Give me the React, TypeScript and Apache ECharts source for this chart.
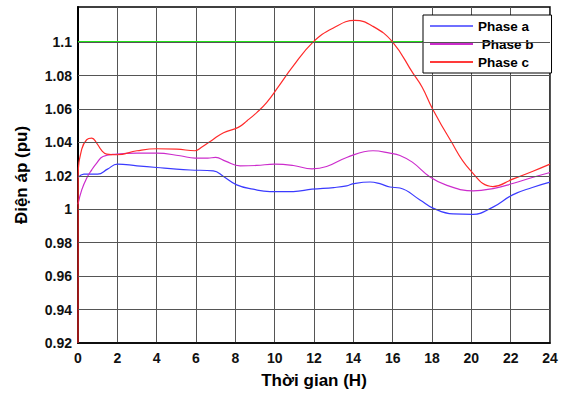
import React, { useEffect, useRef } from "react";
import * as echarts from "echarts";

const phaseA: [number, number][] = [
  [0, 1.019], [0.3, 1.021], [1.0, 1.021], [1.5, 1.024], [2.0, 1.027], [3.0, 1.026],
  [4.0, 1.025], [5.0, 1.024], [5.7, 1.0235], [6.88, 1.023], [7.4, 1.0196], [8.07, 1.0146],
  [8.9, 1.012], [9.76, 1.0106], [10.95, 1.0106], [11.9, 1.012], [13.0, 1.013], [13.66, 1.014],
  [14.0, 1.0153], [14.85, 1.0163], [15.35, 1.0153], [15.86, 1.0133], [16.37, 1.0127],
  [17.39, 1.0056], [18.05, 1.0007], [19.07, 0.9972], [20.08, 0.997], [21.1, 1.0013],
  [22.1, 1.0086], [23.1, 1.013], [24, 1.0162],
];

const phaseB: [number, number][] = [
  [0, 1.003], [0.19, 1.0116], [0.44, 1.0186], [0.7, 1.0236], [0.95, 1.0276], [1.27, 1.0316],
  [1.97, 1.033], [3, 1.0336], [4, 1.0336], [5.19, 1.032], [5.95, 1.0306], [6.6, 1.0306],
  [7.0, 1.031], [7.5, 1.0288], [8.24, 1.026], [9.08, 1.0262], [10, 1.027], [10.95, 1.0262],
  [11.9, 1.0242], [12.64, 1.0256], [13.66, 1.031], [15.0, 1.035], [15.86, 1.0336],
  [16.37, 1.0322], [17.0, 1.0282], [17.9, 1.0193], [18.76, 1.0143], [20.1, 1.011],
  [21.1, 1.0124], [22.1, 1.0154], [23.1, 1.019], [24, 1.022],
];

const phaseC: [number, number][] = [
  [0, 0.92], [0.01, 1.02], [0.19, 1.036], [0.44, 1.0416], [0.7, 1.0426], [0.95, 1.0396],
  [1.2, 1.0352], [1.46, 1.033], [1.97, 1.0326], [3, 1.035], [4, 1.0362], [5.02, 1.036],
  [5.95, 1.035], [6.3, 1.0372], [6.8, 1.0412], [7.4, 1.0458], [8.15, 1.049], [8.6, 1.053],
  [9.1, 1.058], [9.6, 1.064], [10.2, 1.0735], [10.9, 1.085], [11.95, 1.1], [12.96, 1.1083],
  [14.08, 1.113], [15.0, 1.1094], [16.0, 1.1], [17.03, 1.0814], [17.5, 1.073],
  [18.03, 1.06], [18.9, 1.042], [19.93, 1.0236], [21.1, 1.0136], [22.1, 1.018],
  [23.1, 1.0226], [24, 1.027],
];

const limitLine: [number, number][] = [[0, 1.1], [24, 1.1]];
const yGridValues = [0.94, 0.96, 0.98, 1.0, 1.02, 1.04, 1.06, 1.08, 1.1];
const seriesNames = ["Phase a", " Phase b", "Phase c"];

const FONT = "'Liberation Sans', Arial, sans-serif";

export default function App() {
  const ref = useRef<HTMLDivElement>(null);
  useEffect(() => {
    if (!ref.current) return;
    const chart = echarts.init(ref.current, null, { renderer: "svg" });
    const lineBase = { type: "line" as const, showSymbol: false, smooth: 0.45, z: 3 };
    chart.setOption({
      animation: false,
      backgroundColor: "#ffffff",
      grid: {
        left: 78, right: 14, top: 7, bottom: 51,
        show: true, borderColor: "#000", borderWidth: 1.5, backgroundColor: "transparent",
      },
      legend: {
        data: seriesNames,
        orient: "vertical",
        left: 423, top: 15,
        padding: [4, 18, 4, 7],
        itemGap: 4,
        itemWidth: 43, itemHeight: 2,
        icon: "rect",
        backgroundColor: "#fff",
        borderColor: "#000", borderWidth: 1,
        textStyle: { fontFamily: FONT, fontWeight: "bold", fontSize: 13.5, color: "#000" },
      },
      xAxis: {
        type: "value", min: 0, max: 24, interval: 2,
        name: "Thời gian (H)", nameLocation: "middle", nameGap: 29,
        nameTextStyle: { fontFamily: FONT, fontWeight: "bold", fontSize: 17, color: "#000" },
        axisLine: { show: true, lineStyle: { color: "#000", width: 1.5 } },
        axisTick: { show: false },
        axisLabel: { fontFamily: FONT, fontWeight: "bold", fontSize: 14, color: "#111", margin: 8 },
        splitLine: { show: true, lineStyle: { color: "#555", width: 1 } },
      },
      yAxis: {
        type: "value", min: 0.92, max: 1.121, interval: 0.02,
        name: "Điện áp (pu)", nameLocation: "middle", nameGap: 48, nameRotate: 90,
        nameTextStyle: { fontFamily: FONT, fontWeight: "bold", fontSize: 17, color: "#000" },
        axisLine: { show: true, lineStyle: { color: "#000", width: 2 } },
        axisTick: { show: false },
        axisLabel: {
          fontFamily: FONT, fontWeight: "bold", fontSize: 14, color: "#111", margin: 6,
          formatter: (v: number) => (v > 1.11 ? "" : String(parseFloat(v.toFixed(2)))),
        },
        splitLine: { show: false },
      },
      series: [
        {
          name: "grid", type: "line", data: [], z: 1, silent: true,
          markLine: {
            silent: true, symbol: ["none", "none"], label: { show: false },
            lineStyle: { color: "#555", width: 1, type: "solid" },
            data: yGridValues.map((v) => ({ yAxis: v })),
          },
        },
        {
          name: "limit", type: "line", data: limitLine, showSymbol: false, z: 2,
          lineStyle: { color: "#22e01a", width: 2 }, itemStyle: { color: "#22e01a" },
        },
        { ...lineBase, name: seriesNames[0], data: phaseA, lineStyle: { color: "#3b3bff", width: 1.2 }, itemStyle: { color: "#6f6fff" } },
        { ...lineBase, name: seriesNames[1], data: phaseB, lineStyle: { color: "#cc2ccc", width: 1.2 }, itemStyle: { color: "#cc2ccc" } },
        { ...lineBase, name: seriesNames[2], data: phaseC, lineStyle: { color: "#ff2a2a", width: 1.2 }, itemStyle: { color: "#ff3a3a" } },
      ],
    });
    return () => chart.dispose();
  }, []);
  return <div ref={ref} style={{ position: "fixed", left: 0, top: 0, width: 564, height: 394 }} />;
}
